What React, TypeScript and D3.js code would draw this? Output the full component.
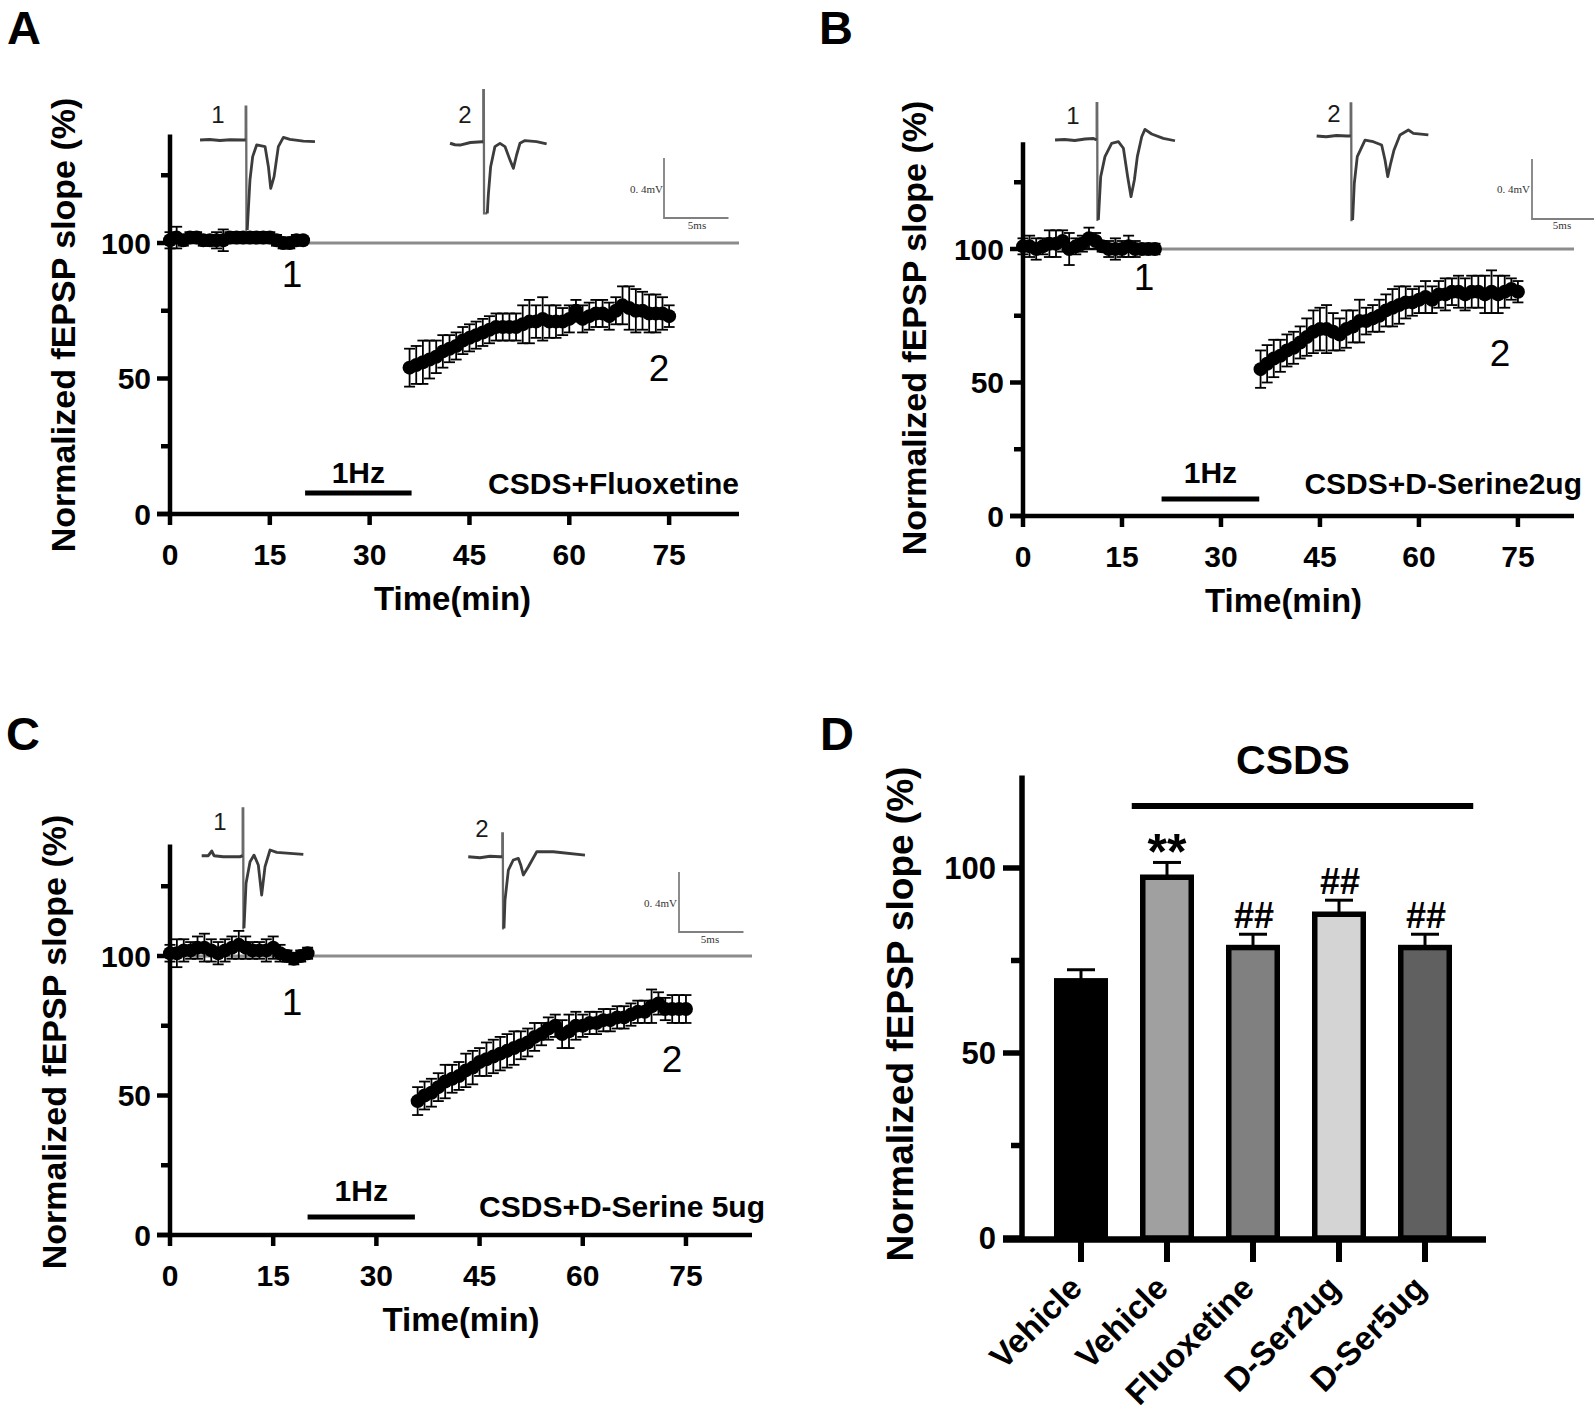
import React, { useEffect } from 'react';
import * as d3 from 'd3';

// ---------------- Data ----------------
const baseTimes = [0, 1, 2, 3, 4, 5, 6, 7, 8, 9, 10, 11, 12, 13, 14, 15, 16, 17, 18, 19, 20];
const postTimes = [36, 37, 38, 39, 40, 41, 42, 43, 44, 45, 46, 47, 48, 49, 50, 51, 52, 53, 54, 55,
  56, 57, 58, 59, 60, 61, 62, 63, 64, 65, 66, 67, 68, 69, 70, 71, 72, 73, 74, 75];

// Panel A: CSDS+Fluoxetine
const aBaseMean = [101, 102, 101, 102, 102, 101, 101, 101, 101, 102, 102, 102, 102, 102, 102, 102, 101, 100, 100, 101, 101];
const aBaseErr = [3, 4, 2, 2, 2, 2, 2, 3, 4, 2, 2, 2, 2, 2, 2, 2, 2, 2, 2, 2, 1];
const aPostMean = [54, 55, 56, 57, 58, 60, 61, 62, 64, 65, 66, 67, 68, 69, 69, 69, 69, 70, 71, 71,
  72, 71, 71, 71, 72, 75, 72, 73, 74, 74, 73, 75, 77, 76, 75, 75, 74, 74, 74, 73];
const aPostErr = [7, 7, 8, 7, 6, 6, 5, 5, 5, 5, 5, 5, 5, 5, 5, 5, 5, 7, 8, 6,
  8, 6, 6, 5, 5, 4, 5, 5, 5, 5, 5, 5, 7, 8, 8, 7, 7, 7, 6, 4];

// Panel B: CSDS+D-Serine2ug
const bBaseMean = [101, 101, 100, 101, 102, 102, 103, 100, 101, 102, 104, 103, 101, 100, 100, 100, 101, 100, 100, 100, 100];
const bBaseErr = [3, 4, 4, 3, 5, 5, 4, 6, 3, 3, 4, 3, 2, 3, 4, 3, 4, 3, 2, 2, 2];
const bPostMean = [55, 57, 59, 60, 62, 63, 65, 67, 69, 70, 70, 69, 68, 70, 71, 73, 73, 74, 75, 77,
  78, 79, 80, 80, 81, 82, 81, 83, 83, 84, 84, 83, 84, 84, 83, 84, 83, 84, 85, 84];
const bPostErr = [7, 7, 7, 6, 6, 6, 6, 7, 8, 8, 9, 7, 6, 7, 6, 8, 5, 5, 6, 6,
  7, 7, 6, 5, 5, 6, 5, 5, 6, 5, 6, 6, 6, 6, 7, 8, 7, 6, 4, 4];

// Panel C: CSDS+D-Serine 5ug
const cBaseMean = [101, 101, 102, 102, 103, 103, 102, 101, 102, 103, 104, 103, 102, 102, 102, 103, 101, 100, 99, 100, 101];
const cBaseErr = [3, 5, 4, 3, 4, 5, 4, 4, 4, 4, 5, 4, 3, 3, 4, 4, 3, 2, 2, 2, 2];
const cPostMean = [48, 50, 51, 53, 55, 56, 57, 59, 60, 62, 63, 64, 65, 66, 67, 68, 69, 71, 72, 74,
  75, 72, 73, 75, 75, 76, 76, 77, 77, 78, 78, 79, 80, 80, 82, 83, 81, 81, 81, 81];
const cPostErr = [5, 5, 5, 5, 6, 5, 5, 6, 6, 5, 6, 6, 6, 6, 6, 5, 5, 5, 4, 4,
  4, 5, 6, 5, 4, 4, 4, 4, 4, 4, 4, 4, 4, 4, 6, 4, 4, 5, 5, 5];

const yTicksMajor = [0, 50, 100];
const yTicksMinor = [25, 75, 125];
const xTicks = [0, 15, 30, 45, 60, 75];

// Example fEPSP traces: [time (ms) from stimulus, voltage (mV)]
const aTrace1Pre = [[-3.54, 0], [-2.8, 0.003], [-2.0, -0.003], [-1.2, 0.002], [-0.2, 0], [0, 0]];
const aTrace1Art = [0.222, -0.6];
const aTrace1Post = [[0.12, -0.6], [0.33, -0.267], [0.54, -0.111], [0.85, -0.033], [1.5, -0.044], [1.76, -0.178],
  [1.94, -0.322], [2.2, -0.244], [2.53, -0.044], [2.92, 0.018], [3.43, 0.004], [4.47, -0.007], [5.37, -0.011]];
const aTrace2Pre = [[-2.58, 0], [-2.2, -0.01], [-1.8, -0.012], [-1.0, 0.005], [-0.1, 0.01], [0, 0.01]];
const aTrace2Art = [0.355, -0.467];
const aTrace2Post = [[0.31, -0.467], [0.39, -0.344], [0.57, -0.156], [0.9, -0.022], [1.29, 0], [1.68, -0.022],
  [2.07, -0.111], [2.33, -0.167], [2.58, -0.078], [2.84, 0], [3.23, 0.018], [4.13, 0.011], [4.91, -0.004]];

const bTrace1Pre = [[-3.23, 0], [-2.5, 0.004], [-1.7, -0.004], [-0.9, 0.006], [-0.25, 0.01], [0, 0]];
const bTrace1Art = [0.245, -0.533];
const bTrace1Post = [[0.13, -0.533], [0.31, -0.245], [0.64, -0.111], [1.16, -0.022], [1.68, -0.011], [2.07, -0.055],
  [2.4, -0.245], [2.66, -0.378], [2.92, -0.267], [3.15, -0.111], [3.49, 0.022], [3.74, 0.071], [4.26, 0.04],
  [5.16, 0.011], [6.07, -0.005]];
const bTrace2Pre = [[-2.64, 0], [-1.9, -0.005], [-1.1, 0.004], [-0.3, 0], [0, 0]];
const bTrace2Art = [0.218, -0.56];
const bTrace2Post = [[0.15, -0.56], [0.28, -0.315], [0.51, -0.138], [1.11, -0.027], [1.75, -0.038], [2.4, -0.06],
  [2.66, -0.16], [2.87, -0.271], [3.1, -0.182], [3.36, -0.093], [3.82, 0.007], [4.47, 0.04], [4.86, 0.018],
  [6.02, 0.007]];

const cTrace1Pre = [[-3.18, 0], [-2.67, 0], [-2.4, 0.031], [-2.22, 0], [-1.5, -0.007], [-0.21, -0.007], [0, 0]];
const cTrace1Art = [0.316, -0.484];
const cTrace1Post = [[0.1, -0.484], [0.26, -0.184], [0.57, -0.04], [0.88, 0.004], [1.21, -0.062], [1.47, -0.262],
  [1.73, -0.073], [2.12, 0.038], [2.64, 0.022], [3.67, 0.016], [4.7, 0.009]];
const cTrace2Pre = [[-2.64, 0], [-1.73, -0.007], [-0.95, 0.003], [-0.18, 0], [0, 0]];
const cTrace2Art = [0.156, -0.478];
const cTrace2Post = [[0.13, -0.478], [0.21, -0.289], [0.47, -0.089], [0.85, -0.022], [1.24, -0.011], [1.43, -0.055],
  [1.63, -0.122], [2.02, -0.067], [2.67, 0.033], [3.95, 0.033], [6.41, 0.011]];

// Panel D bar chart
const barKeys = ['ctrl-vehicle', 'csds-vehicle', 'csds-fluoxetine', 'csds-dser2', 'csds-dser5'];
const barLabels = ['Vehicle', 'Vehicle', 'Fluoxetine', 'D-Ser2ug', 'D-Ser5ug'];
const barMeans = [69.5, 97.5, 78.5, 87.5, 78.5];
const barErrs = [3, 4, 3.6, 3.8, 3.6];
const barMarks = ['', '**', '##', '##', '##'];
const barFills = ['#000000', '#a0a0a0', '#808080', '#d4d4d4', '#606060'];
const barYTicksMajor = [0, 50, 100];
const barYTicksMinor = [25, 75];

// ---------------- Drawing ----------------
const FONT = '"Liberation Sans", Arial, Helvetica, sans-serif';
const SERIF = '"Liberation Serif", "DejaVu Serif", serif';

type Pt = number[];

function Trace({ ox, oy, pre, art, post, label, lx, ly }: any) {
  const tx = d3.scaleLinear().domain([0, 1]).range([ox, ox + 12.9]);
  const vy = d3.scaleLinear().domain([0, 1]).range([oy, oy - 150]);
  const line = d3.line<Pt>().x(d => tx(d[0])).y(d => vy(d[1])).curve(d3.curveLinear);
  const artPts: Pt[] = [[0, 0], [0, art[0]], [0.04, art[0]], [0.06, art[1]], [post[0][0], art[1]]];
  return (
    <g>
      <path d={line(artPts) || ''} fill="none" stroke="#6a6a6a" strokeWidth={2.3} />
      <path d={line(pre) || ''} fill="none" stroke="#3c3c3c" strokeWidth={3} strokeLinejoin="round" />
      <path d={line(post) || ''} fill="none" stroke="#3c3c3c" strokeWidth={2.8} strokeLinejoin="round" />
      <text x={lx} y={ly} fontFamily={FONT} fontSize={24} textAnchor="middle" fill="#1a1a1a">{label}</text>
    </g>
  );
}

function ScaleBar({ cx, cy, tx, ty, mvx, mvy }: any) {
  const w = 5 * 12.9;
  const h = 0.4 * 150;
  return (
    <g>
      <path d={`M${cx},${cy - h} L${cx},${cy} L${cx + w},${cy}`} fill="none" stroke="#808080" strokeWidth={1.8} />
      <text x={mvx} y={mvy} fontFamily={SERIF} fontSize={11} textAnchor="end" fill="#333">0. 4mV</text>
      <text x={tx} y={ty} fontFamily={SERIF} fontSize={11} textAnchor="middle" fill="#333">5ms</text>
    </g>
  );
}

function TimePanel({ cfg }: any) {
  const x = d3.scaleLinear().domain([0, cfg.xMax]).range([cfg.x0, cfg.x1]);
  const y = d3.scaleLinear().domain([0, 140]).range([cfg.y0, cfg.yTop]);
  const pts = (times: number[], means: number[], errs: number[]) =>
    times.map((t, i) => ({ t, m: means[i], e: errs[i] }));
  const all = [...pts(baseTimes, cfg.baseMean, cfg.baseErr), ...pts(postTimes, cfg.postMean, cfg.postErr)];
  const axW = 4.5;
  return (
    <g>
      {/* panel letter */}
      <text x={cfg.letterX} y={cfg.letterY} fontFamily={FONT} fontWeight="bold" fontSize={47} textAnchor="middle">{cfg.letter}</text>
      {/* 100% reference line */}
      <line x1={x(0)} x2={x(cfg.xMax)} y1={y(100)} y2={y(100)} stroke="#8c8c8c" strokeWidth={3.2} />
      {/* y axis */}
      <line x1={x(0)} x2={x(0)} y1={y(0) + axW / 2} y2={y(140)} stroke="#000" strokeWidth={axW} />
      {yTicksMajor.map(v => (
        <g key={'ym' + v}>
          <line x1={x(0) - 13} x2={x(0)} y1={y(v)} y2={y(v)} stroke="#000" strokeWidth={axW} />
          <text x={x(0) - 19} y={y(v) + 10.5} fontFamily={FONT} fontWeight="bold" fontSize={30} textAnchor="end">{v}</text>
        </g>
      ))}
      {yTicksMinor.map(v => (
        <line key={'yn' + v} x1={x(0) - 9} x2={x(0)} y1={y(v)} y2={y(v)} stroke="#000" strokeWidth={axW} />
      ))}
      {/* x axis */}
      <line x1={x(0) - 13} x2={x(cfg.xMax)} y1={y(0)} y2={y(0)} stroke="#000" strokeWidth={axW} />
      {xTicks.map(v => (
        <g key={'xt' + v}>
          <line x1={x(v)} x2={x(v)} y1={y(0)} y2={y(0) + 11} stroke="#000" strokeWidth={axW} />
          <text x={x(v)} y={y(0) + 51} fontFamily={FONT} fontWeight="bold" fontSize={30} textAnchor="middle">{v}</text>
        </g>
      ))}
      <text x={(x(0) + x(cfg.xMax)) / 2 + cfg.xTitleDx} y={y(0) + 96} fontFamily={FONT} fontWeight="bold" fontSize={33} textAnchor="middle">Time(min)</text>
      <text transform={`translate(${cfg.yTitleX},${cfg.yTitleY}) rotate(-90)`} fontFamily={FONT} fontWeight="bold" fontSize={34} textAnchor="middle">Normalized fEPSP slope (%)</text>
      {/* error bars */}
      {all.map((p, i) => (
        <g key={'e' + i} stroke="#000" strokeWidth={1.8}>
          <line x1={x(p.t)} x2={x(p.t)} y1={y(p.m - p.e)} y2={y(p.m + p.e)} />
          <line x1={x(p.t) - 5.5} x2={x(p.t) + 5.5} y1={y(p.m - p.e)} y2={y(p.m - p.e)} />
          <line x1={x(p.t) - 5.5} x2={x(p.t) + 5.5} y1={y(p.m + p.e)} y2={y(p.m + p.e)} />
        </g>
      ))}
      {/* points */}
      {all.map((p, i) => (
        <circle key={'c' + i} cx={x(p.t)} cy={y(p.m)} r={7} fill="#000" />
      ))}
      {/* stimulation bar */}
      <line x1={x(cfg.stim[0])} x2={x(cfg.stim[1])} y1={cfg.stimY} y2={cfg.stimY} stroke="#000" strokeWidth={5} />
      <text x={(x(cfg.stim[0]) + x(cfg.stim[1])) / 2} y={cfg.stimY - cfg.hzGap} fontFamily={FONT} fontWeight="bold" fontSize={30} textAnchor="middle">1Hz</text>
      <text x={cfg.condX} y={cfg.condY} fontFamily={FONT} fontWeight="bold" fontSize={30} textAnchor="end">{cfg.cond}</text>
      {/* time point labels */}
      <text x={cfg.l1[0]} y={cfg.l1[1]} fontFamily={FONT} fontSize={37} textAnchor="middle">1</text>
      <text x={cfg.l2[0]} y={cfg.l2[1]} fontFamily={FONT} fontSize={37} textAnchor="middle">2</text>
      {/* traces */}
      <Trace {...cfg.tr1} label="1" />
      <Trace {...cfg.tr2} label="2" />
      <ScaleBar {...cfg.sb} />
    </g>
  );
}

const panelA = {
  letter: 'A', letterX: 24, letterY: 44,
  x0: 170, x1: 739, xMax: 85.5, y0: 514, yTop: 134.6,
  baseMean: aBaseMean, baseErr: aBaseErr, postMean: aPostMean, postErr: aPostErr,
  stim: [20.3, 36.3], stimY: 493, hzGap: 10, cond: 'CSDS+Fluoxetine', condX: 739, condY: 494,
  xTitleDx: -2, yTitleX: 75, yTitleY: 325,
  l1: [292, 287], l2: [659, 381],
  tr1: { ox: 245.7, oy: 140, pre: aTrace1Pre, art: aTrace1Art, post: aTrace1Post, lx: 218, ly: 123 },
  tr2: { ox: 483.3, oy: 143.3, pre: aTrace2Pre, art: aTrace2Art, post: aTrace2Post, lx: 465, ly: 123 },
  sb: { cx: 664, cy: 218, mvx: 663, mvy: 193, tx: 697, ty: 229 },
};
const panelB = {
  letter: 'B', letterX: 836, letterY: 44,
  x0: 1023, x1: 1574, xMax: 83.5, y0: 516, yTop: 142.2,
  baseMean: bBaseMean, baseErr: bBaseErr, postMean: bPostMean, postErr: bPostErr,
  stim: [21, 35.8], stimY: 499, hzGap: 16, cond: 'CSDS+D-Serine2ug', condX: 1582, condY: 494,
  xTitleDx: -15, yTitleX: 926, yTitleY: 328,
  l1: [1144, 290], l2: [1500, 366],
  tr1: { ox: 1096.7, oy: 140, pre: bTrace1Pre, art: bTrace1Art, post: bTrace1Post, lx: 1073, ly: 124 },
  tr2: { ox: 1350.7, oy: 136, pre: bTrace2Pre, art: bTrace2Art, post: bTrace2Post, lx: 1334, ly: 122 },
  sb: { cx: 1532, cy: 219, mvx: 1530, mvy: 193, tx: 1562, ty: 229 },
};
const panelC = {
  letter: 'C', letterX: 23, letterY: 750,
  x0: 170, x1: 752, xMax: 84.6, y0: 1235, yTop: 844.4,
  baseMean: cBaseMean, baseErr: cBaseErr, postMean: cPostMean, postErr: cPostErr,
  stim: [20, 35.6], stimY: 1217, hzGap: 16, cond: 'CSDS+D-Serine 5ug', condX: 765, condY: 1217,
  xTitleDx: 0, yTitleX: 66, yTitleY: 1042,
  l1: [292, 1015], l2: [672, 1072],
  tr1: { ox: 242.7, oy: 855.7, pre: cTrace1Pre, art: cTrace1Art, post: cTrace1Post, lx: 220, ly: 830 },
  tr2: { ox: 502.3, oy: 856.7, pre: cTrace2Pre, art: cTrace2Art, post: cTrace2Post, lx: 482, ly: 837 },
  sb: { cx: 679, cy: 932, mvx: 677, mvy: 907, tx: 710, ty: 943 },
};

function BarPanel() {
  const xb = d3.scaleBand<string>().domain(barKeys).range([1022, 1484]).paddingInner(0.436).paddingOuter(0.404);
  const yb = d3.scaleLinear().domain([0, 125]).range([1238, 1238 - 125 * 3.7]);
  const bw = xb.bandwidth();
  const axW = 5.5;
  const cx = (k: string) => (xb(k) as number) + bw / 2;
  return (
    <g>
      <text x={837} y={750} fontFamily={FONT} fontWeight="bold" fontSize={47} textAnchor="middle">D</text>
      <text transform={`translate(913,1014) rotate(-90)`} fontFamily={FONT} fontWeight="bold" fontSize={37} textAnchor="middle">Normalized fEPSP slope (%)</text>
      {/* bars */}
      {barKeys.map((k, i) => (
        <rect key={k} x={xb(k)} y={yb(barMeans[i])} width={bw} height={yb(0) - yb(barMeans[i])}
          fill={barFills[i]} stroke="#000" strokeWidth={5.5} />
      ))}
      {/* error bars */}
      {barKeys.map((k, i) => (
        <g key={'e' + k} stroke="#000" strokeWidth={3}>
          <line x1={cx(k)} x2={cx(k)} y1={yb(barMeans[i])} y2={yb(barMeans[i] + barErrs[i])} />
          <line x1={cx(k) - 14} x2={cx(k) + 14} y1={yb(barMeans[i] + barErrs[i])} y2={yb(barMeans[i] + barErrs[i])} />
        </g>
      ))}
      {/* significance marks */}
      {barKeys.map((k, i) => barMarks[i] === '**' ? (
        <text key={'m' + k} x={cx(k)} y={yb(barMeans[i] + barErrs[i]) + 7} fontFamily={FONT} fontWeight="bold" fontSize={50} textAnchor="middle">{barMarks[i]}</text>
      ) : barMarks[i] ? (
        <text key={'m' + k} x={cx(k) + 1} y={yb(barMeans[i] + barErrs[i]) - 6} fontFamily={FONT} fontWeight="bold" fontSize={36} textAnchor="middle">{barMarks[i]}</text>
      ) : null)}
      {/* y axis */}
      <line x1={1022} x2={1022} y1={yb(0) + 3} y2={yb(125)} stroke="#000" strokeWidth={axW} />
      {barYTicksMajor.map(v => (
        <g key={'dy' + v}>
          <line x1={1003} x2={1022} y1={yb(v)} y2={yb(v)} stroke="#000" strokeWidth={axW} />
          <text x={996} y={yb(v) + 11} fontFamily={FONT} fontWeight="bold" fontSize={31} textAnchor="end">{v}</text>
        </g>
      ))}
      {barYTicksMinor.map(v => (
        <line key={'dn' + v} x1={1011} x2={1022} y1={yb(v)} y2={yb(v)} stroke="#000" strokeWidth={axW} />
      ))}
      {/* x axis */}
      <line x1={1003} x2={1486} y1={yb(0) + 1.5} y2={yb(0) + 1.5} stroke="#000" strokeWidth={6.5} />
      {barKeys.map((k, i) => (
        <g key={'xt' + k}>
          <line x1={cx(k)} x2={cx(k)} y1={yb(0)} y2={1262} stroke="#000" strokeWidth={6} />
          <text transform={`translate(${cx(k) + 3},1290) rotate(-45)`} fontFamily={FONT} fontWeight="bold" fontSize={33} textAnchor="end">{barLabels[i]}</text>
        </g>
      ))}
      {/* CSDS group line */}
      <line x1={(xb(barKeys[1]) as number) - 11} x2={(xb(barKeys[4]) as number) + bw + 24} y1={806} y2={806} stroke="#000" strokeWidth={6} />
      <text x={1293} y={774} fontFamily={FONT} fontWeight="bold" fontSize={41} textAnchor="middle">CSDS</text>
    </g>
  );
}

export default function App() {
  useEffect(() => {
    document.body.style.margin = '0';
  }, []);
  return (
    <svg width={1594} height={1411} viewBox="0 0 1594 1411" style={{ display: 'block', background: '#fff' }}>
      <rect x={0} y={0} width={1594} height={1411} fill="#fff" />
      <TimePanel cfg={panelA} />
      <TimePanel cfg={panelB} />
      <TimePanel cfg={panelC} />
      <BarPanel />
    </svg>
  );
}
